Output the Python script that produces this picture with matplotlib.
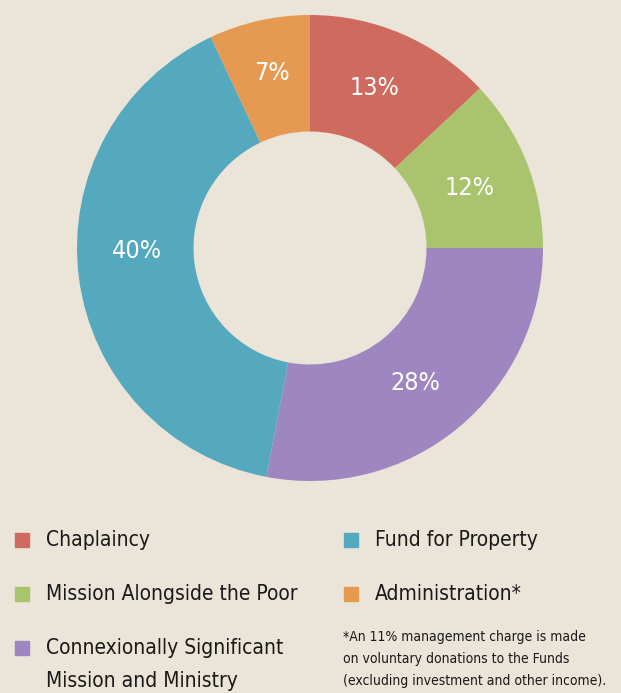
import matplotlib.pyplot as plt
from matplotlib.patches import Rectangle

# Dados do gráfico
categorias = ['Chaplaincy', 'Mission Alongside the Poor',
              'Connexionally Significant\nMission and Ministry',
              'Fund for Property', 'Administration*']
valores = [13, 12, 28, 40, 7]
cores = ['#cf6a5f', '#a9c46d', '#9e87c0', '#54a9bf', '#e69a51']
nota = ('*An 11% management charge is made\n'
        'on voluntary donations to the Funds\n'
        '(excluding investment and other income).')

fundo = '#ebe4d8'
plt.rcParams['font.family'] = ['DejaVu Sans']
plt.rcParams['font.stretch'] = 'condensed'

fig = plt.figure(figsize=(6.21, 6.93), dpi=100)
fig.patch.set_facecolor(fundo)

# Rosca (donut)
R = 233  # raio externo em pixels
ax = fig.add_axes([77 / 621, 1 - 481 / 693, 466 / 621, 466 / 693])
ax.set_facecolor(fundo)
wedges, textos, autotextos = ax.pie(
    valores, colors=cores, startangle=90, counterclock=False,
    radius=1.0, wedgeprops=dict(width=0.5, linewidth=0),
    autopct=lambda p: f'{p:.0f}%', pctdistance=0.75,
    textprops=dict(color='white', fontsize=18, fontstretch='condensed'))

# pequenos ajustes de posição dos rótulos (pixels; dy positivo = para cima)
ajustes = [(-5, 0), (-3, -4), (-6, 0), (0, 19), (0, 4)]
for t, (dx, dy) in zip(autotextos, ajustes):
    x, y = t.get_position()
    t.set_position((x + dx / R, y + dy / R))

ax.set_aspect('equal')
ax.set_xlim(-1, 1)
ax.set_ylim(-1, 1)
ax.axis('off')

# Legenda manual
W, H = 621, 693
posicoes = [(15, 540), (15, 594), (15, 648), (344, 540), (344, 594)]
for (x, y), cat, cor in zip(posicoes, categorias, cores):
    fig.patches.append(Rectangle((x / W, 1 - (y + 7) / H), 14 / W, 14 / H,
                                 transform=fig.transFigure, color=cor))
    yt = y if '\n' not in cat else y + 16.5
    fig.text((x + 31) / W, 1 - yt / H, cat, fontsize=15, color='#1a1a1a',
             va='center', linespacing=1.8, fontstretch='condensed')

fig.text(343 / W, 1 - 630 / H, nota, fontsize=10, color='#1a1a1a',
         va='top', linespacing=1.72, fontstretch='condensed')

plt.savefig('out.png', dpi=100, facecolor=fundo)
